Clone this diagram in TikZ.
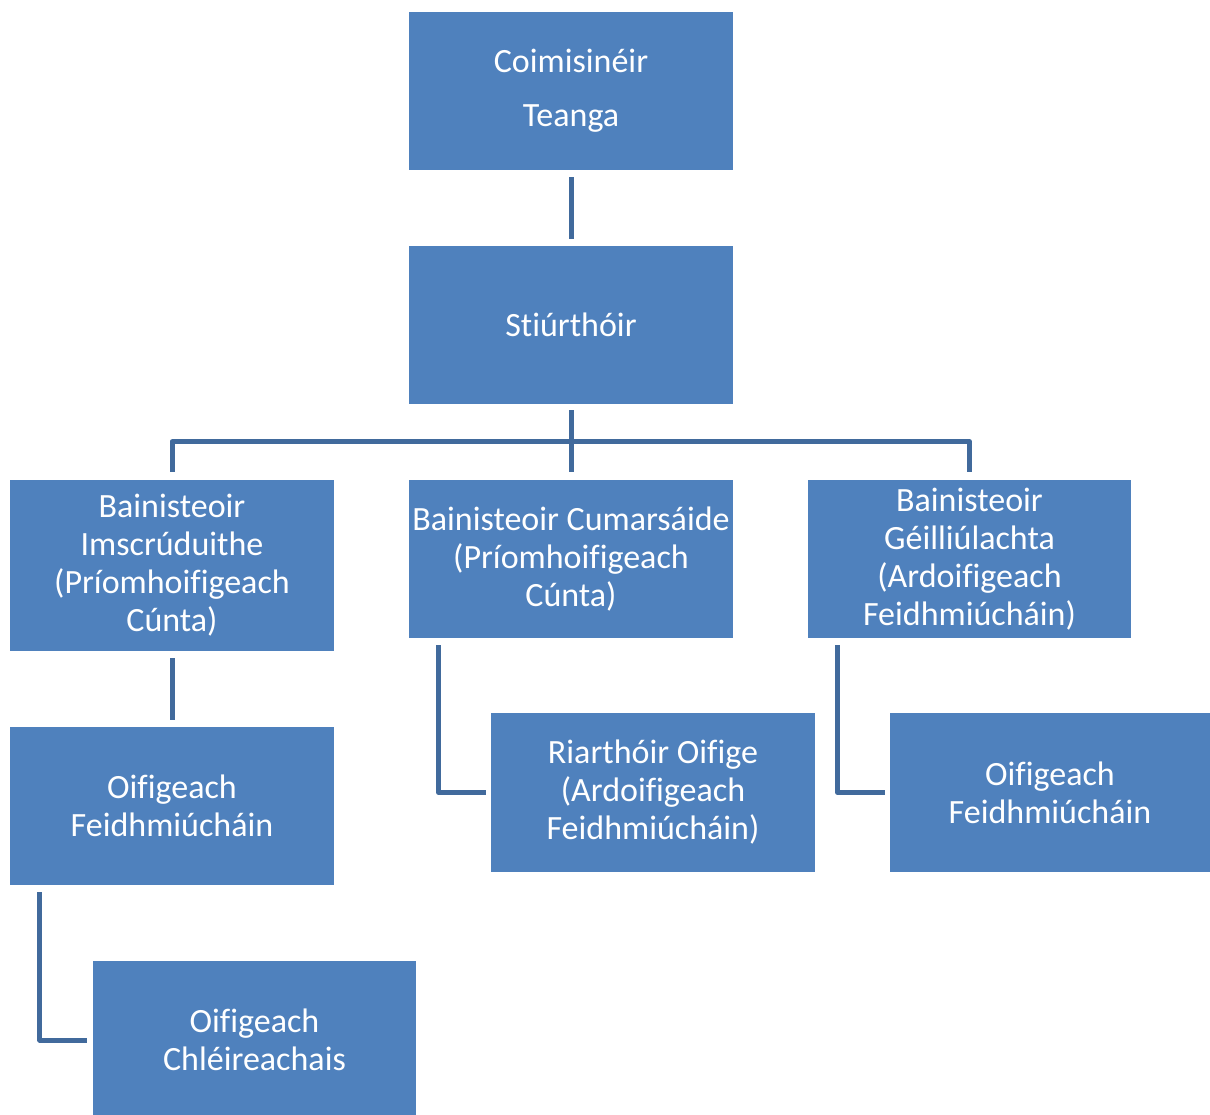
\documentclass[tikz,border=0pt]{standalone}
\usepackage{fontspec}
\setmainfont{Carlito}[Ligatures=NoCommon]
\definecolor{boxblue}{HTML}{4F81BD}
\definecolor{lineblue}{HTML}{416A9C}
\begin{document}
\begin{tikzpicture}[x=1pt,y=1pt,
  orgbox/.style={fill=boxblue, draw=none, text=white, align=center,
    inner sep=0pt, font=\fontsize{34}{38}\selectfont},
  conn/.style={draw=lineblue, line width=5pt, line join=round}]
\useasboundingbox (0,0) rectangle (1210,-1115);
\clip (0,0) rectangle (1210,-1115);
\node[orgbox, minimum width=324, minimum height=158, font=\fontsize{34}{54}\selectfont] (b1) at (571,-91) {Coimisinéir\\Teanga};
\node[orgbox, minimum width=324, minimum height=158] (b2) at (571,-325) {Stiúrthóir};
\node[orgbox, minimum width=324, minimum height=171] (b3) at (172,-565.5) {Bainisteoir\\Imscrúduithe\\(Príomhoifigeach\\Cúnta)};
\node[orgbox, minimum width=324, minimum height=158] (b4) at (571,-559) {Bainisteoir Cumarsáide\\(Príomhoifigeach\\Cúnta)};
\node[orgbox, minimum width=323, minimum height=158] (b5) at (969.5,-559) {Bainisteoir\\Géilliúlachta\\(Ardoifigeach\\Feidhmiúcháin)};
\node[orgbox, minimum width=324, minimum height=158] (b6) at (172,-806) {Oifigeach\\Feidhmiúcháin};
\node[orgbox, minimum width=324, minimum height=159] (b7) at (653,-792.5) {Riarthóir Oifige\\(Ardoifigeach\\Feidhmiúcháin)};
\node[orgbox, minimum width=320, minimum height=159] (b8) at (1050,-792.5) {Oifigeach\\Feidhmiúcháin};
\node[orgbox, minimum width=323, minimum height=158] (b9) at (254.5,-1040) {Oifigeach\\Chléireachais};
% connectors
\draw[conn] ([yshift=-7]b1.south) -- ([yshift=7]b2.north);
\draw[conn] ([yshift=-6]b2.south) -- ([yshift=8]b4.north);
\draw[conn] ([yshift=8]b3.north) -- ++(0,30) -| ([yshift=8]b5.north);
\draw[conn] ([yshift=-7]b3.south) -- ([yshift=7]b6.north);
\draw[conn] ([xshift=30,yshift=-7]b6.south west) |- ([xshift=-6]b9.west);
\draw[conn] ([xshift=30,yshift=-7]b4.south west) |- ([xshift=-5]b7.west);
\draw[conn] ([xshift=30,yshift=-7]b5.south west) |- ([xshift=-5]b8.west);
\end{tikzpicture}
\end{document}
